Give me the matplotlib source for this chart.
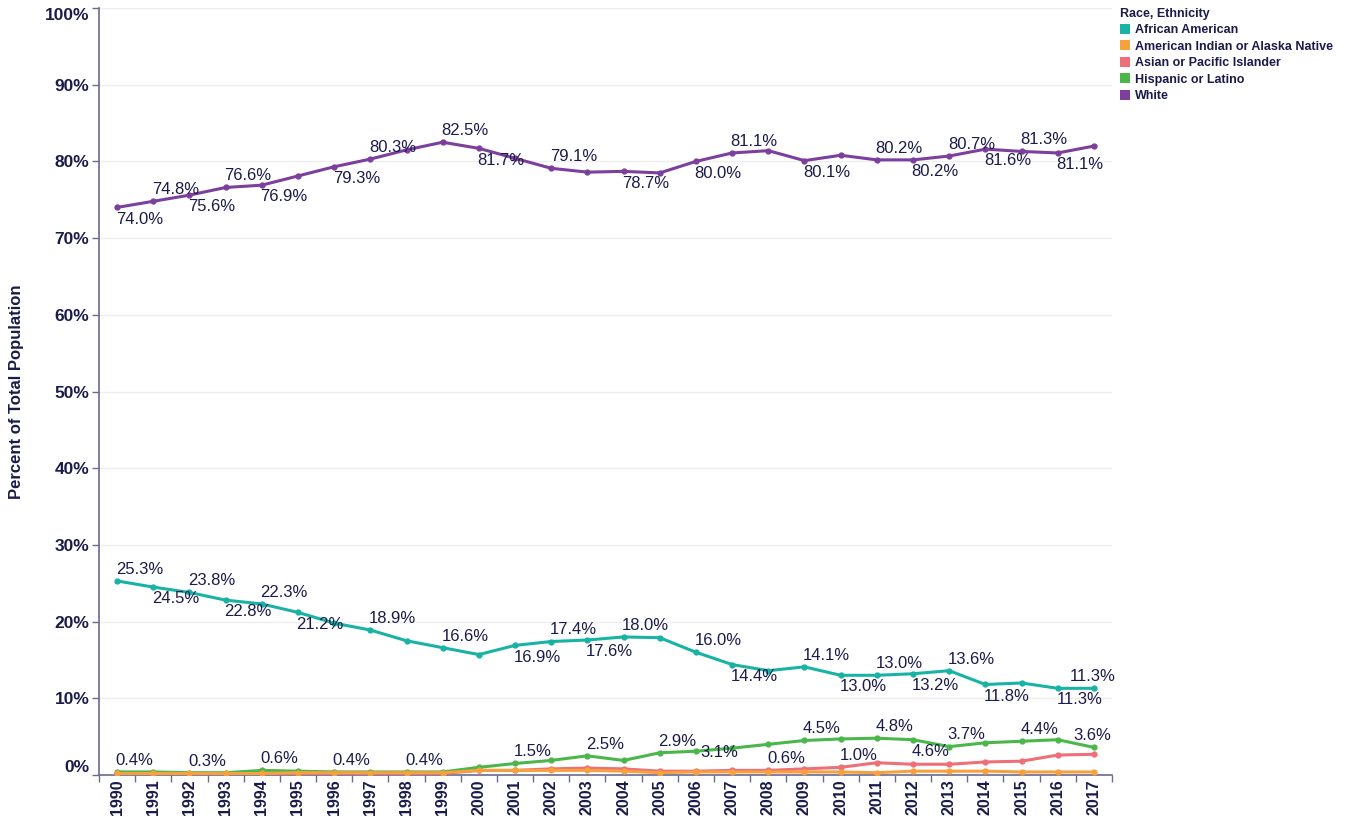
import numpy as np
import matplotlib
matplotlib.use('Agg')
import matplotlib.pyplot as plt
from matplotlib.patches import Patch
from matplotlib.ticker import FixedLocator, FuncFormatter

plt.rcParams['font.family'] = ['Liberation Sans', 'DejaVu Sans']

years = list(range(1990, 2018))

african_american = [25.3, 24.5, 23.8, 22.8, 22.3, 21.2, 19.8, 18.9, 17.5, 16.6,
                    15.7, 16.9, 17.4, 17.6, 18.0, 17.9, 16.0, 14.4, 13.6, 14.1,
                    13.0, 13.0, 13.2, 13.6, 11.8, 12.0, 11.3, 11.3]
american_indian = [0.2, 0.2, 0.2, 0.2, 0.2, 0.3, 0.3, 0.3, 0.3, 0.3,
                   0.6, 0.6, 0.6, 0.6, 0.5, 0.3, 0.4, 0.4, 0.4, 0.4,
                   0.4, 0.3, 0.5, 0.5, 0.5, 0.4, 0.4, 0.4]
asian_pi = [0.2, 0.2, 0.1, 0.1, 0.2, 0.2, 0.2, 0.2, 0.2, 0.2,
            0.6, 0.6, 0.8, 0.9, 0.8, 0.5, 0.5, 0.6, 0.6, 0.8,
            1.0, 1.6, 1.4, 1.4, 1.7, 1.8, 2.6, 2.7]
hispanic = [0.4, 0.4, 0.3, 0.3, 0.6, 0.5, 0.4, 0.4, 0.4, 0.4,
            1.0, 1.5, 1.9, 2.5, 1.9, 2.9, 3.1, 3.5, 4.0, 4.5,
            4.7, 4.8, 4.6, 3.7, 4.2, 4.4, 4.6, 3.6]
white = [74.0, 74.8, 75.6, 76.6, 76.9, 78.1, 79.3, 80.3, 81.5, 82.5,
         81.7, 80.4, 79.1, 78.6, 78.7, 78.5, 80.0, 81.1, 81.4, 80.1,
         80.8, 80.2, 80.2, 80.7, 81.6, 81.3, 81.1, 82.0]

series_names = ['African American', 'American Indian or Alaska Native',
                'Asian or Pacific Islander', 'Hispanic or Latino', 'White']
series_values = [african_american, american_indian, asian_pi, hispanic, white]
colors = ['#18b3a5', '#f7a13e', '#ef6f78', '#4bb74b', '#7d3f9d']

# which points carry a value label: a = above, b = below, r = right
label_pos = {
    'African American': {1990: 'a', 1991: 'b', 1992: 'a', 1993: 'b', 1994: 'a', 1995: 'b',
                         1997: 'a', 1999: 'a', 2001: 'b', 2002: 'a', 2003: 'b', 2004: 'a',
                         2006: 'a', 2007: 'b', 2009: 'a', 2010: 'b', 2011: 'a', 2012: 'b',
                         2013: 'a', 2014: 'b', 2016: 'b', 2017: 'a'},
    'Asian or Pacific Islander': {2008: 'a', 2010: 'a'},
    'Hispanic or Latino': {1990: 'a', 1992: 'a', 1994: 'a', 1996: 'a', 1998: 'a', 2001: 'a',
                           2003: 'a', 2005: 'a', 2006: 'r', 2009: 'a', 2011: 'a', 2012: 'b',
                           2013: 'a', 2015: 'a', 2017: 'a'},
    'White': {1990: 'b', 1991: 'a', 1992: 'b', 1993: 'a', 1994: 'b', 1996: 'b', 1997: 'a',
              1999: 'a', 2000: 'b', 2002: 'a', 2004: 'b', 2006: 'b', 2007: 'a', 2009: 'b',
              2011: 'a', 2012: 'b', 2013: 'a', 2014: 'b', 2015: 'a', 2016: 'b'},
}

navy = '#1b1b4b'
fig = plt.figure(figsize=(13.51, 8.17), dpi=100)
ax = fig.add_axes([99 / 1351, 42 / 817, (1112 - 99) / 1351, (775 - 8) / 817])

# draw order: orange ends up on top of the other small lines near zero
order = [2, 3, 1, 0, 4]
for z, i in enumerate(order):
    ax.plot(years, series_values[i], color=colors[i], lw=2.2, marker='o', ms=3.5,
            zorder=3 + z)

for name, vals in zip(series_names, series_values):
    pos = label_pos.get(name, {})
    for yr, p in pos.items():
        v = vals[yr - 1990]
        ha = 'center' if yr == 2017 else 'left'
        if p == 'a':
            off, va = (-1, 3), 'bottom'
        elif p == 'b':
            off, va = (-1, -3), 'top'
        else:
            off, va = (3, -1), 'center'
        ax.annotate('{:.1f}%'.format(v), (yr, v), xytext=off, textcoords='offset points',
                    ha=ha, va=va, fontsize=12, color=navy, zorder=10)

ax.set_xlim(1989.5, 2017.5)
ax.set_ylim(0, 100)
ax.set_xticks(years)
ax.set_xticklabels([str(y) for y in years], rotation=90, fontsize=11.5,
                   fontweight='bold', color=navy)
ax.xaxis.set_minor_locator(FixedLocator(np.arange(1989.5, 2018, 1)))
ax.tick_params(axis='x', which='major', length=0, pad=3)
ax.tick_params(axis='x', which='minor', length=5, color='#6b6b8f', width=1)

ax.set_yticks(np.arange(0, 101, 10))
ax.yaxis.set_major_formatter(FuncFormatter(lambda v, _: '{:.0f}%'.format(v)))
ax.tick_params(axis='y', length=5, color='#6b6b8f', width=1, pad=2)
for lab in ax.get_yticklabels():
    lab.set_fontsize(12.5)
    lab.set_fontweight('bold')
    lab.set_color(navy)
ylabs = ax.get_yticklabels()
ylabs[0].set_va('bottom')
ylabs[-1].set_va('top')

ax.grid(axis='y', color='#efefef', lw=1)
ax.set_axisbelow(True)
for s in ['top', 'right']:
    ax.spines[s].set_visible(False)
for s in ['left', 'bottom']:
    ax.spines[s].set_color('#6b6b8f')
    ax.spines[s].set_linewidth(1.2)

ax.set_ylabel('Percent of Total Population', fontsize=12, fontweight='bold',
              color=navy)
ax.yaxis.set_label_coords(-0.0745, 0.5)

handles = [Patch(facecolor=c, edgecolor='none') for c in colors]
leg = ax.legend(handles, series_names, loc='upper left', bbox_to_anchor=(1.0, 1.01),
                frameon=False, title='Race, Ethnicity', alignment='left',
                handlelength=0.85, handleheight=0.85, handletextpad=0.4,
                labelspacing=0.33, borderaxespad=0.2,
                prop={'size': 9, 'weight': 'bold'},
                title_fontproperties={'size': 9, 'weight': 'bold'})
for t in leg.get_texts():
    t.set_color(navy)
leg.get_title().set_color(navy)

fig.savefig('out.png', dpi=100)
